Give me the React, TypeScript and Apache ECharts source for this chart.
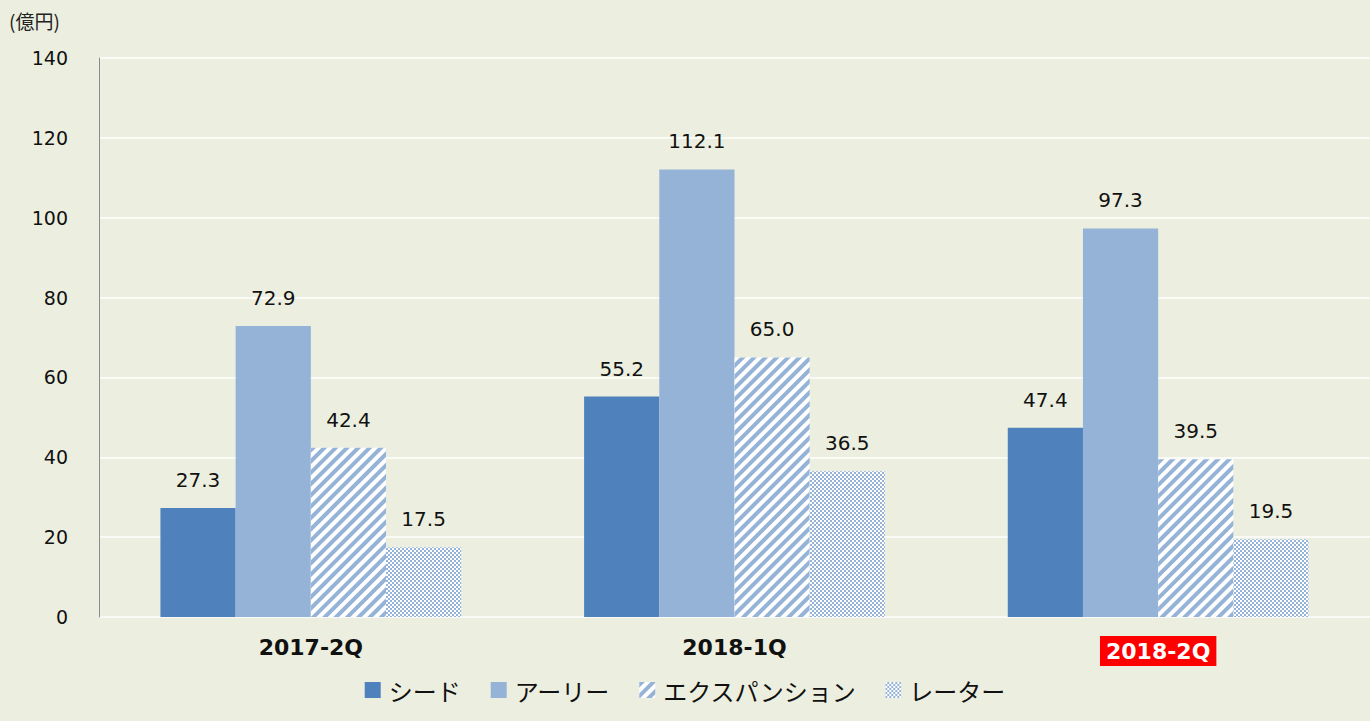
import React, { useEffect, useRef } from "react";
import * as echarts from "echarts";

const categories = ["2017-2Q", "2018-1Q", "2018-2Q"];
const seriesNames = ["シード", "アーリー", "エクスパンション", "レーター"];
const seed = [27.3, 55.2, 47.4];
const early = [72.9, 112.1, 97.3];
const expansion = [42.4, 65.0, 39.5];
const later = [17.5, 36.5, 19.5];
const yMax = 140;
const yInterval = 20;
const unitLabel = "(億円)";

const BLUE = "#4F81BD";
const LIGHT = "#95B3D7";

export default function App() {
  const ref = useRef<HTMLDivElement>(null);
  useEffect(() => {
    if (!ref.current) return;
    const chart = echarts.init(ref.current, null, { renderer: "svg" });
    const labelCfg = {
      show: true,
      position: "top" as const,
      distance: 18,
      fontFamily: "DejaVu Sans",
      fontSize: 20,
      color: "#111",
      formatter: (p: any) => Number(p.value).toFixed(1),
    };
    const mk = (name: string, data: number[], itemStyle: any) => ({
      name,
      type: "bar",
      data,
      barGap: "0%",
      barCategoryGap: "29%",
      itemStyle,
      label: labelCfg,
    });
    chart.setOption({
      animation: false,
      backgroundColor: "#ECEFDF",
      textStyle: { fontFamily: "'Noto Sans CJK JP', 'DejaVu Sans'" },
      grid: { left: 99, right: 0, top: 58, bottom: 104, containLabel: false },
      graphic: [
        {
          type: "text",
          left: 9,
          top: 11,
          style: {
            text: unitLabel,
            font: "19px 'Noto Sans CJK JP'",
            fill: "#222",
          },
        },
      ],
      legend: {
        bottom: 14,
        left: "center",
        icon: "rect",
        itemWidth: 16,
        itemHeight: 16,
        itemGap: 30,
        textStyle: { fontSize: 24, color: "#111", fontFamily: "'Noto Sans CJK JP'", padding: [0, 0, 0, 3] },
        data: seriesNames,
      },
      xAxis: {
        type: "category",
        data: categories,
        axisLine: { show: false },
        axisTick: { show: false },
        axisLabel: {
          margin: 19,
          fontFamily: "DejaVu Sans",
          fontSize: 22,
          fontWeight: "bold",
          color: "#111",
          formatter: (v: string, i: number) => (i === 2 ? `{hl|${v}}` : v),
          rich: {
            hl: {
              backgroundColor: "#FF0000",
              color: "#fff",
              fontFamily: "DejaVu Sans",
              fontSize: 22,
              fontWeight: "bold",
              padding: [4, 6, 4, 6],
            },
          },
        },
      },
      yAxis: {
        type: "value",
        min: 0,
        max: yMax,
        interval: yInterval,
        axisLine: { show: true, lineStyle: { color: "#8C8C8C", width: 1 } },
        axisTick: { show: false },
        splitLine: { lineStyle: { color: "#FFFFFF", width: 1.5 } },
        axisLabel: { margin: 31, fontFamily: "DejaVu Sans", fontSize: 19, color: "#111" },
      },
      series: [
        mk(seriesNames[0], seed, { color: BLUE }),
        mk(seriesNames[1], early, { color: LIGHT }),
        mk(seriesNames[2], expansion, {
          color: "#FFFFFF",
          decal: {
            symbol: "rect",
            symbolSize: 1,
            color: LIGHT,
            dashArrayX: [1, 0],
            dashArrayY: [4, 4],
            rotation: -Math.PI / 4,
          },
        }),
        mk(seriesNames[3], later, {
          color: "#FFFFFF",
          decal: {
            symbol: "rect",
            symbolSize: 1,
            color: LIGHT,
            dashArrayX: [[2, 2], [0, 2, 2, 0]],
            dashArrayY: [2, 0],
            rotation: 0,
          },
        }),
      ],
    });
    return () => chart.dispose();
  }, []);
  return <div ref={ref} style={{ width: 1370, height: 721, position: "absolute", left: 0, top: 0 }} />;
}
